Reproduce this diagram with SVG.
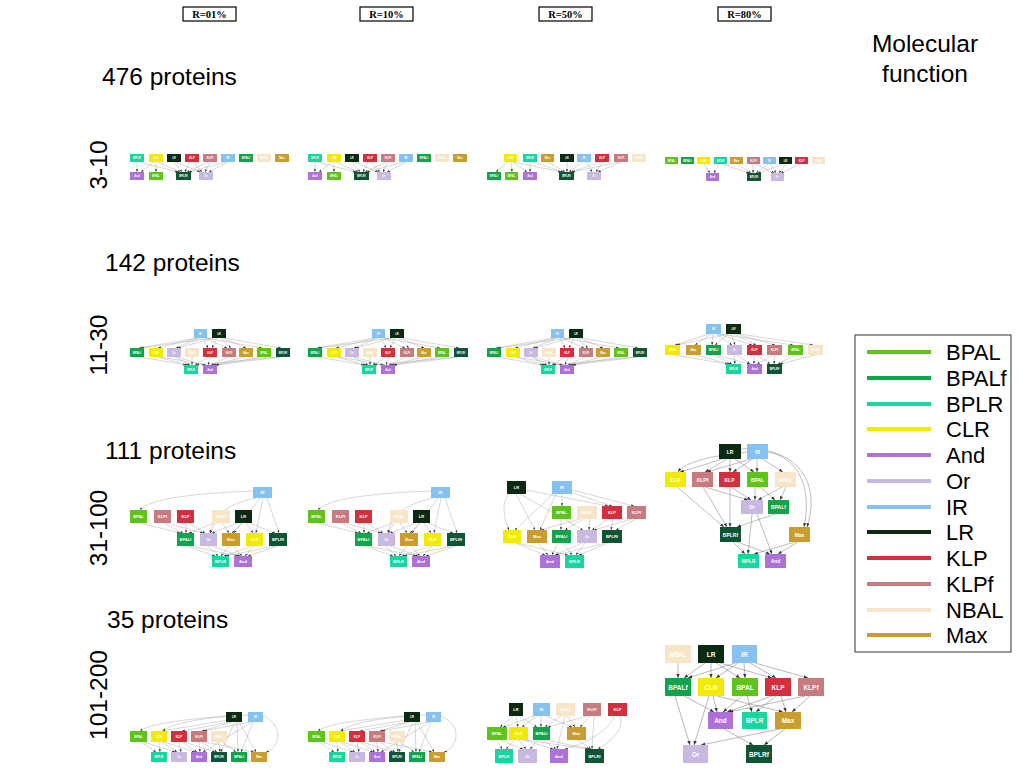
<svg xmlns="http://www.w3.org/2000/svg" width="1024" height="768" viewBox="0 0 1024 768">
<defs>
<marker id="a" viewBox="0 0 10 10" refX="10" refY="5" markerWidth="7" markerHeight="7" orient="auto" markerUnits="strokeWidth"><path d="M0,1 L10,5 L0,9 z" fill="#333"/></marker>
<style>
.BPAL{fill:#5fc41a}.BPALf{fill:#10a54a}.BPLR{fill:#18d6a0}.CLR{fill:#f2ea00}.And{fill:#ad72d8}.Or{fill:#c9b8e2}
.IR{fill:#86c2ef}.LR{fill:#0b2a12}.KLP{fill:#d32f3c}.KLPf{fill:#c77b7e}.NBAL{fill:#f7e5c5}.Max{fill:#c99e2e}
text{font-family:"Liberation Sans",Arial,sans-serif}
.n text{fill:#fff;font-weight:bold;text-anchor:middle;dominant-baseline:central}
.s1 text{font-size:2.8px}.s2 text{font-size:3.2px}.s3 text{font-size:4px}.s4 text{font-size:5px}.s5 text{font-size:6.5px}
.e path{stroke:#999;stroke-width:0.4;fill:none;marker-end:url(#a)}
.e.big path{stroke-width:0.55;stroke:#888}
.big2 path{stroke-width:0.6;stroke:#888}
.lab{font-size:22px;fill:#000}
.ttl{font-size:24.5px;fill:#000}
.hd{font-family:"Liberation Serif","Times New Roman",serif;font-size:10.5px;font-weight:bold;text-anchor:middle;fill:#000}
.hb{fill:#fff;stroke:#000;stroke-width:1.2}
.lg line{stroke-width:4}
</style>
</defs>
<rect width="1024" height="768" fill="#fff"/>

<!-- headers -->
<g id="headers">
<rect class="hb" x="183" y="7" width="53" height="14"/><text class="hd" x="209.5" y="18">R=01%</text>
<rect class="hb" x="360" y="7" width="53" height="14"/><text class="hd" x="386.5" y="18">R=10%</text>
<rect class="hb" x="539" y="7" width="53" height="14"/><text class="hd" x="565.5" y="18">R=50%</text>
<rect class="hb" x="718" y="7" width="53" height="14"/><text class="hd" x="744.5" y="18">R=80%</text>
</g>
<g id="labels">
<text class="ttl" x="102" y="85">476 proteins</text>
<text class="ttl" x="105" y="271">142 proteins</text>
<text class="ttl" x="105" y="459">111 proteins</text>
<text class="ttl" x="107" y="628">35 proteins</text>
<text class="ttl" text-anchor="middle" transform="translate(107,165) rotate(-90)">3-10</text>
<text class="ttl" text-anchor="middle" transform="translate(107,345) rotate(-90)">11-30</text>
<text class="ttl" text-anchor="middle" transform="translate(107,528) rotate(-90)">31-100</text>
<text class="ttl" text-anchor="middle" transform="translate(107,695) rotate(-90)">101-200</text>
<text class="ttl" text-anchor="middle" x="925" y="52">Molecular</text>
<text class="ttl" text-anchor="middle" x="925" y="82">function</text>
</g>

<!-- legend -->
<g id="legend" class="lg">
<rect x="855" y="335" width="156" height="317" fill="#fff" stroke="#333" stroke-width="1"/>
<line x1="867" x2="931" y1="352" y2="352" stroke="#5fc41a"/><text class="lab" x="946" y="360">BPAL</text>
<line x1="867" x2="931" y1="378" y2="378" stroke="#10a54a"/><text class="lab" x="946" y="386">BPALf</text>
<line x1="867" x2="931" y1="404" y2="404" stroke="#18d6a0"/><text class="lab" x="946" y="412">BPLR</text>
<line x1="867" x2="931" y1="429" y2="429" stroke="#f2ea00"/><text class="lab" x="946" y="437">CLR</text>
<line x1="867" x2="931" y1="455" y2="455" stroke="#ad72d8"/><text class="lab" x="946" y="463">And</text>
<line x1="867" x2="931" y1="481" y2="481" stroke="#c9b8e2"/><text class="lab" x="946" y="489">Or</text>
<line x1="867" x2="931" y1="507" y2="507" stroke="#86c2ef"/><text class="lab" x="946" y="515">IR</text>
<line x1="867" x2="931" y1="532" y2="532" stroke="#0b2a12"/><text class="lab" x="946" y="540">LR</text>
<line x1="867" x2="931" y1="558" y2="558" stroke="#d32f3c"/><text class="lab" x="946" y="566">KLP</text>
<line x1="867" x2="931" y1="584" y2="584" stroke="#c77b7e"/><text class="lab" x="946" y="592">KLPf</text>
<line x1="867" x2="931" y1="610" y2="610" stroke="#f7e5c5"/><text class="lab" x="946" y="618">NBAL</text>
<line x1="867" x2="931" y1="635" y2="635" stroke="#c99e2e"/><text class="lab" x="946" y="643">Max</text>
</g>

<!-- ===== Row 1 col 1 and col 2 ===== -->
<g id="r1c1" class="n s1">
<g id="r1c1-edges" class="e">
<path d="M137,162 L137,172"/><path d="M154,162 L141,172"/><path d="M156,162 L156,172"/>
<path d="M139,162 L178,172"/><path d="M158,162 L180,172"/><path d="M174,162 L182,172"/>
<path d="M190,162 L185,172"/><path d="M208,162 L187,172"/><path d="M226,162 L189,172"/>
<path d="M193,162 L202,172"/><path d="M210,162 L205,172"/><path d="M228,162 L209,172"/><path d="M176,162 L200,172"/>
</g>
<g id="r1c1-BPLR"><rect class="BPLR" x="130" y="154" width="14" height="8"/><text x="137" y="158">BPLR</text></g>
<g id="r1c1-CLR"><rect class="CLR" x="149" y="154" width="14" height="8"/><text x="156" y="158">CLR</text></g>
<g id="r1c1-LR"><rect class="LR" x="167" y="154" width="14" height="8"/><text x="174" y="158">LR</text></g>
<g id="r1c1-KLP"><rect class="KLP" x="185" y="154" width="14" height="8"/><text x="192" y="158">KLP</text></g>
<g id="r1c1-KLPf"><rect class="KLPf" x="203" y="154" width="14" height="8"/><text x="210" y="158">KLPf</text></g>
<g id="r1c1-IR"><rect class="IR" x="221" y="154" width="14" height="8"/><text x="228" y="158">IR</text></g>
<g id="r1c1-BPALf"><rect class="BPALf" x="239" y="154" width="14" height="8"/><text x="246" y="158">BPALf</text></g>
<g id="r1c1-NBAL"><rect class="NBAL" x="257" y="154" width="14" height="8"/><text x="264" y="158">NBAL</text></g>
<g id="r1c1-Max"><rect class="Max" x="275" y="154" width="14" height="8"/><text x="282" y="158">Max</text></g>
<g id="r1c1-And"><rect class="And" x="130" y="172" width="14" height="8"/><text x="137" y="176">And</text></g>
<g id="r1c1-BPAL"><rect class="BPAL" x="149" y="172" width="14" height="8"/><text x="156" y="176">BPAL</text></g>
<g id="r1c1-BPLRf"><rect x="176" y="172" width="15" height="8" style="fill:#0f5535"/><text x="183.5" y="176">BPLRf</text></g>
<g id="r1c1-Or"><rect class="Or" x="199" y="172" width="14" height="8"/><text x="206" y="176">Or</text></g>
</g>

<g id="r1c2" class="n s1" transform="translate(178,0)">
<g id="r1c2-edges" class="e">
<path d="M137,162 L137,172"/><path d="M154,162 L141,172"/><path d="M156,162 L156,172"/>
<path d="M139,162 L178,172"/><path d="M158,162 L180,172"/><path d="M174,162 L182,172"/>
<path d="M190,162 L185,172"/><path d="M208,162 L187,172"/><path d="M226,162 L189,172"/>
<path d="M193,162 L202,172"/><path d="M210,162 L205,172"/><path d="M228,162 L209,172"/><path d="M176,162 L200,172"/>
</g>
<g id="r1c2-BPLR"><rect class="BPLR" x="130" y="154" width="14" height="8"/><text x="137" y="158">BPLR</text></g>
<g id="r1c2-CLR"><rect class="CLR" x="149" y="154" width="14" height="8"/><text x="156" y="158">CLR</text></g>
<g id="r1c2-LR"><rect class="LR" x="167" y="154" width="14" height="8"/><text x="174" y="158">LR</text></g>
<g id="r1c2-KLP"><rect class="KLP" x="185" y="154" width="14" height="8"/><text x="192" y="158">KLP</text></g>
<g id="r1c2-KLPf"><rect class="KLPf" x="203" y="154" width="14" height="8"/><text x="210" y="158">KLPf</text></g>
<g id="r1c2-IR"><rect class="IR" x="221" y="154" width="14" height="8"/><text x="228" y="158">IR</text></g>
<g id="r1c2-BPALf"><rect class="BPALf" x="239" y="154" width="14" height="8"/><text x="246" y="158">BPALf</text></g>
<g id="r1c2-NBAL"><rect class="NBAL" x="257" y="154" width="14" height="8"/><text x="264" y="158">NBAL</text></g>
<g id="r1c2-Max"><rect class="Max" x="275" y="154" width="14" height="8"/><text x="282" y="158">Max</text></g>
<g id="r1c2-And"><rect class="And" x="130" y="172" width="14" height="8"/><text x="137" y="176">And</text></g>
<g id="r1c2-BPAL"><rect class="BPAL" x="149" y="172" width="14" height="8"/><text x="156" y="176">BPAL</text></g>
<g id="r1c2-BPLRf"><rect x="176" y="172" width="15" height="8" style="fill:#0f5535"/><text x="183.5" y="176">BPLRf</text></g>
<g id="r1c2-Or"><rect class="Or" x="199" y="172" width="14" height="8"/><text x="206" y="176">Or</text></g>
</g>

<!-- ===== Row 1 col 3 ===== -->
<g id="r1c3" class="n s1">
<g id="r1c3-edges" class="e">
<path d="M508,162 L496,172"/><path d="M511,162 L512,172"/><path d="M530,162 L530,172"/><path d="M513,162 L527,172"/>
<path d="M514,162 L561,172"/><path d="M533,162 L563,172"/><path d="M548,162 L565,172"/><path d="M567,162 L567,172"/>
<path d="M582,162 L569,172"/><path d="M600,162 L571,172"/><path d="M619,162 L572,172"/>
<path d="M603,162 L596,172"/><path d="M621,162 L598,172"/><path d="M586,162 L592,172"/>
</g>
<g id="r1c3-CLR"><rect class="CLR" x="504" y="154" width="13" height="8"/><text x="510.5" y="158">CLR</text></g>
<g id="r1c3-BPLR"><rect class="BPLR" x="523" y="154" width="14" height="8"/><text x="530" y="158">BPLR</text></g>
<g id="r1c3-Max"><rect class="Max" x="541" y="154" width="13" height="8"/><text x="547.5" y="158">Max</text></g>
<g id="r1c3-LR"><rect class="LR" x="560" y="154" width="14" height="8"/><text x="567" y="158">LR</text></g>
<g id="r1c3-IR"><rect class="IR" x="577" y="154" width="14" height="8"/><text x="584" y="158">IR</text></g>
<g id="r1c3-KLP"><rect class="KLP" x="595" y="154" width="14" height="8"/><text x="602" y="158">KLP</text></g>
<g id="r1c3-KLPf"><rect class="KLPf" x="614" y="154" width="14" height="8"/><text x="621" y="158">KLPf</text></g>
<g id="r1c3-NBAL"><rect class="NBAL" x="632" y="154" width="14" height="8"/><text x="639" y="158">NBAL</text></g>
<g id="r1c3-BPALf"><rect class="BPALf" x="487" y="172" width="14" height="8"/><text x="494" y="176">BPALf</text></g>
<g id="r1c3-BPAL"><rect class="BPAL" x="505" y="172" width="13" height="8"/><text x="511.5" y="176">BPAL</text></g>
<g id="r1c3-And"><rect class="And" x="523" y="172" width="14" height="8"/><text x="530" y="176">And</text></g>
<g id="r1c3-BPLRf"><rect x="559" y="172" width="15" height="8" style="fill:#0f5535"/><text x="566.5" y="176">BPLRf</text></g>
<g id="r1c3-Or"><rect class="Or" x="587" y="172" width="14" height="8"/><text x="594" y="176">Or</text></g>
</g>

<!-- ===== Row 1 col 4 ===== -->
<g id="r1c4" class="n s1">
<g id="r1c4-edges" class="e">
<path d="M704,164 L710,173"/><path d="M719,164 L714,173"/><path d="M722,164 L749,173"/><path d="M737,164 L751,173"/>
<path d="M753,164 L753,173"/><path d="M768,164 L756,173"/><path d="M784,164 L758,173"/>
<path d="M800,164 L781,173"/><path d="M786,164 L779,173"/><path d="M770,164 L776,173"/><path d="M755,164 L774,173"/>
</g>
<g id="r1c4-BPAL"><rect class="BPAL" x="665" y="157" width="13" height="7"/><text x="671.5" y="160.5">BPAL</text></g>
<g id="r1c4-BPALf"><rect class="BPALf" x="681" y="157" width="13" height="7"/><text x="687.5" y="160.5">BPALf</text></g>
<g id="r1c4-CLR"><rect class="CLR" x="697" y="157" width="13" height="7"/><text x="703.5" y="160.5">CLR</text></g>
<g id="r1c4-BPLR"><rect class="BPLR" x="714" y="157" width="13" height="7"/><text x="720.5" y="160.5">BPLR</text></g>
<g id="r1c4-Max"><rect class="Max" x="730" y="157" width="13" height="7"/><text x="736.5" y="160.5">Max</text></g>
<g id="r1c4-KLPf"><rect class="KLPf" x="747" y="157" width="13" height="7"/><text x="753.5" y="160.5">KLPf</text></g>
<g id="r1c4-IR"><rect class="IR" x="763" y="157" width="13" height="7"/><text x="769.5" y="160.5">IR</text></g>
<g id="r1c4-LR"><rect class="LR" x="779" y="157" width="13" height="7"/><text x="785.5" y="160.5">LR</text></g>
<g id="r1c4-KLP"><rect class="KLP" x="795" y="157" width="13" height="7"/><text x="801.5" y="160.5">KLP</text></g>
<g id="r1c4-NBAL"><rect class="NBAL" x="812" y="157" width="13" height="7"/><text x="818.5" y="160.5">NBAL</text></g>
<g id="r1c4-And"><rect class="And" x="706" y="173" width="13" height="8"/><text x="712.5" y="177">And</text></g>
<g id="r1c4-BPLRf"><rect x="747" y="173" width="14" height="8" style="fill:#0f5535"/><text x="754" y="177">BPLRf</text></g>
<g id="r1c4-Or"><rect class="Or" x="771" y="173" width="13" height="8"/><text x="777.5" y="177">Or</text></g>
</g>

<!-- ===== Row 2 cols 1-3 ===== -->
<g id="r2c1" class="n s1">
<g id="r2c1-edges" class="e">
<path d="M197,338 L139,348"/><path d="M198,338 L158,348"/><path d="M200,338 L176,348"/><path d="M203,338 L208,348"/>
<path d="M205,338 L227,348"/><path d="M206,338 L262,348"/><path d="M214,338 L178,348"/><path d="M217,338 L212,348"/>
<path d="M220,338 L231,348"/><path d="M222,338 L246,348"/><path d="M224,338 L281,348"/><path d="M213,338 L141,348"/>
<path d="M140,357 L186,365"/><path d="M158,357 L188,365"/><path d="M175,357 L190,365"/><path d="M192,357 L192,365"/>
<path d="M208,357 L195,365"/><path d="M211,357 L208,365"/><path d="M228,357 L211,365"/><path d="M245,357 L213,365"/>
<path d="M262,357 L215,365"/><path d="M281,357 L216,365"/><path d="M176,357 L205,365"/><path d="M160,357 L206,365"/><path d="M279,357 L196,365"/>
</g>
<g id="r2c1-IR"><rect class="IR" x="194" y="329" width="13" height="9"/><text x="200.5" y="333.5">IR</text></g>
<g id="r2c1-LR"><rect class="LR" x="212" y="329" width="14" height="9"/><text x="219" y="333.5">LR</text></g>
<g id="r2c1-BPALf"><rect class="BPALf" x="130" y="348" width="14" height="9"/><text x="137" y="352.5">BPALf</text></g>
<g id="r2c1-CLR"><rect class="CLR" x="149" y="348" width="14" height="9"/><text x="156" y="352.5">CLR</text></g>
<g id="r2c1-Or"><rect class="Or" x="167" y="348" width="14" height="9"/><text x="174" y="352.5">Or</text></g>
<g id="r2c1-NBAL"><rect class="NBAL" x="185" y="348" width="14" height="9"/><text x="192" y="352.5">NBAL</text></g>
<g id="r2c1-KLP"><rect class="KLP" x="203" y="348" width="14" height="9"/><text x="210" y="352.5">KLP</text></g>
<g id="r2c1-KLPf"><rect class="KLPf" x="222" y="348" width="14" height="9"/><text x="229" y="352.5">KLPf</text></g>
<g id="r2c1-Max"><rect class="Max" x="239" y="348" width="14" height="9"/><text x="246" y="352.5">Max</text></g>
<g id="r2c1-BPAL"><rect class="BPAL" x="257" y="348" width="14" height="9"/><text x="264" y="352.5">BPAL</text></g>
<g id="r2c1-BPLRf"><rect x="276" y="348" width="14" height="9" style="fill:#0f5535"/><text x="283" y="352.5">BPLRf</text></g>
<g id="r2c1-BPLR"><rect class="BPLR" x="184" y="365" width="14" height="9"/><text x="191" y="369.5">BPLR</text></g>
<g id="r2c1-And"><rect class="And" x="203" y="365" width="14" height="9"/><text x="210" y="369.5">And</text></g>
</g>

<g id="r2c2" class="n s1" transform="translate(178,0)">
<g id="r2c2-edges" class="e">
<path d="M197,338 L139,348"/><path d="M198,338 L158,348"/><path d="M200,338 L176,348"/><path d="M203,338 L208,348"/>
<path d="M205,338 L227,348"/><path d="M206,338 L262,348"/><path d="M214,338 L178,348"/><path d="M217,338 L212,348"/>
<path d="M220,338 L231,348"/><path d="M222,338 L246,348"/><path d="M224,338 L281,348"/><path d="M213,338 L141,348"/>
<path d="M140,357 L186,365"/><path d="M158,357 L188,365"/><path d="M175,357 L190,365"/><path d="M192,357 L192,365"/>
<path d="M208,357 L195,365"/><path d="M211,357 L208,365"/><path d="M228,357 L211,365"/><path d="M245,357 L213,365"/>
<path d="M262,357 L215,365"/><path d="M281,357 L216,365"/><path d="M176,357 L205,365"/><path d="M160,357 L206,365"/><path d="M279,357 L196,365"/>
</g>
<g id="r2c2-IR"><rect class="IR" x="194" y="329" width="13" height="9"/><text x="200.5" y="333.5">IR</text></g>
<g id="r2c2-LR"><rect class="LR" x="212" y="329" width="14" height="9"/><text x="219" y="333.5">LR</text></g>
<g id="r2c2-BPALf"><rect class="BPALf" x="130" y="348" width="14" height="9"/><text x="137" y="352.5">BPALf</text></g>
<g id="r2c2-CLR"><rect class="CLR" x="149" y="348" width="14" height="9"/><text x="156" y="352.5">CLR</text></g>
<g id="r2c2-Or"><rect class="Or" x="167" y="348" width="14" height="9"/><text x="174" y="352.5">Or</text></g>
<g id="r2c2-NBAL"><rect class="NBAL" x="185" y="348" width="14" height="9"/><text x="192" y="352.5">NBAL</text></g>
<g id="r2c2-KLP"><rect class="KLP" x="203" y="348" width="14" height="9"/><text x="210" y="352.5">KLP</text></g>
<g id="r2c2-KLPf"><rect class="KLPf" x="222" y="348" width="14" height="9"/><text x="229" y="352.5">KLPf</text></g>
<g id="r2c2-Max"><rect class="Max" x="239" y="348" width="14" height="9"/><text x="246" y="352.5">Max</text></g>
<g id="r2c2-BPAL"><rect class="BPAL" x="257" y="348" width="14" height="9"/><text x="264" y="352.5">BPAL</text></g>
<g id="r2c2-BPLRf"><rect x="276" y="348" width="14" height="9" style="fill:#0f5535"/><text x="283" y="352.5">BPLRf</text></g>
<g id="r2c2-BPLR"><rect class="BPLR" x="184" y="365" width="14" height="9"/><text x="191" y="369.5">BPLR</text></g>
<g id="r2c2-And"><rect class="And" x="203" y="365" width="14" height="9"/><text x="210" y="369.5">And</text></g>
</g>

<g id="r2c3" class="n s1" transform="translate(357,0)">
<g id="r2c3-edges" class="e">
<path d="M197,338 L139,348"/><path d="M198,338 L158,348"/><path d="M200,338 L176,348"/><path d="M203,338 L208,348"/>
<path d="M205,338 L227,348"/><path d="M206,338 L262,348"/><path d="M214,338 L178,348"/><path d="M217,338 L212,348"/>
<path d="M220,338 L231,348"/><path d="M222,338 L246,348"/><path d="M224,338 L281,348"/><path d="M213,338 L141,348"/>
<path d="M140,357 L186,365"/><path d="M158,357 L188,365"/><path d="M175,357 L190,365"/><path d="M192,357 L192,365"/>
<path d="M208,357 L195,365"/><path d="M211,357 L208,365"/><path d="M228,357 L211,365"/><path d="M245,357 L213,365"/>
<path d="M262,357 L215,365"/><path d="M281,357 L216,365"/><path d="M176,357 L205,365"/><path d="M160,357 L206,365"/><path d="M279,357 L196,365"/>
</g>
<g id="r2c3-IR"><rect class="IR" x="194" y="329" width="13" height="9"/><text x="200.5" y="333.5">IR</text></g>
<g id="r2c3-LR"><rect class="LR" x="212" y="329" width="14" height="9"/><text x="219" y="333.5">LR</text></g>
<g id="r2c3-BPALf"><rect class="BPALf" x="130" y="348" width="14" height="9"/><text x="137" y="352.5">BPALf</text></g>
<g id="r2c3-CLR"><rect class="CLR" x="149" y="348" width="14" height="9"/><text x="156" y="352.5">CLR</text></g>
<g id="r2c3-Or"><rect class="Or" x="167" y="348" width="14" height="9"/><text x="174" y="352.5">Or</text></g>
<g id="r2c3-NBAL"><rect class="NBAL" x="185" y="348" width="14" height="9"/><text x="192" y="352.5">NBAL</text></g>
<g id="r2c3-KLP"><rect class="KLP" x="203" y="348" width="14" height="9"/><text x="210" y="352.5">KLP</text></g>
<g id="r2c3-KLPf"><rect class="KLPf" x="222" y="348" width="14" height="9"/><text x="229" y="352.5">KLPf</text></g>
<g id="r2c3-Max"><rect class="Max" x="239" y="348" width="14" height="9"/><text x="246" y="352.5">Max</text></g>
<g id="r2c3-BPAL"><rect class="BPAL" x="257" y="348" width="14" height="9"/><text x="264" y="352.5">BPAL</text></g>
<g id="r2c3-BPLRf"><rect x="276" y="348" width="14" height="9" style="fill:#0f5535"/><text x="283" y="352.5">BPLRf</text></g>
<g id="r2c3-BPLR"><rect class="BPLR" x="184" y="365" width="14" height="9"/><text x="191" y="369.5">BPLR</text></g>
<g id="r2c3-And"><rect class="And" x="203" y="365" width="14" height="9"/><text x="210" y="369.5">And</text></g>
</g>

<!-- ===== Row 2 col 4 ===== -->
<g id="r2c4" class="n s2">
<g id="r2c4-edges" class="e">
<path d="M709,334 L675,345"/><path d="M711,334 L695,345"/><path d="M713,334 L712,345"/><path d="M716,334 L732,345"/>
<path d="M718,334 L752,345"/><path d="M719,334 L793,345"/><path d="M729,334 L715,345"/><path d="M731,334 L735,345"/>
<path d="M734,334 L756,345"/><path d="M736,334 L775,345"/><path d="M739,334 L813,345"/><path d="M728,334 L677,345"/>
<path d="M674,355 L728,364"/><path d="M695,355 L730,364"/><path d="M714,355 L732,364"/><path d="M734,355 L735,364"/>
<path d="M737,355 L750,364"/><path d="M754,355 L754,364"/><path d="M773,355 L757,364"/><path d="M757,355 L770,364"/>
<path d="M775,355 L774,364"/><path d="M795,355 L778,364"/><path d="M815,355 L780,364"/><path d="M716,355 L750,364"/>
</g>
<g id="r2c4-IR"><rect class="IR" x="706" y="324" width="15" height="10"/><text x="713.5" y="329">IR</text></g>
<g id="r2c4-LR"><rect class="LR" x="726" y="324" width="15" height="10"/><text x="733.5" y="329">LR</text></g>
<g id="r2c4-CLR"><rect class="CLR" x="665" y="345" width="15" height="10"/><text x="672.5" y="350">CLR</text></g>
<g id="r2c4-Max"><rect class="Max" x="686" y="345" width="15" height="10"/><text x="693.5" y="350">Max</text></g>
<g id="r2c4-BPALf"><rect class="BPALf" x="706" y="345" width="15" height="10"/><text x="713.5" y="350">BPALf</text></g>
<g id="r2c4-Or"><rect class="Or" x="727" y="345" width="15" height="10"/><text x="734.5" y="350">Or</text></g>
<g id="r2c4-KLP"><rect class="KLP" x="747" y="345" width="15" height="10"/><text x="754.5" y="350">KLP</text></g>
<g id="r2c4-KLPf"><rect class="KLPf" x="767" y="345" width="15" height="10"/><text x="774.5" y="350">KLPf</text></g>
<g id="r2c4-BPAL"><rect class="BPAL" x="788" y="345" width="15" height="10"/><text x="795.5" y="350">BPAL</text></g>
<g id="r2c4-NBAL"><rect class="NBAL" x="808" y="345" width="15" height="10"/><text x="815.5" y="350">NBAL</text></g>
<g id="r2c4-BPLR"><rect class="BPLR" x="726" y="364" width="15" height="10"/><text x="733.5" y="369">BPLR</text></g>
<g id="r2c4-And"><rect class="And" x="747" y="364" width="15" height="10"/><text x="754.5" y="369">And</text></g>
<g id="r2c4-BPLRf"><rect x="767" y="364" width="15" height="10" style="fill:#0f5535"/><text x="774.5" y="369">BPLRf</text></g>
</g>

<!-- ===== Row 3 cols 1-2 ===== -->
<g id="r3c1" class="n s3">
<g id="r3c1-edges" class="e">
<path d="M253,491 C200,493 150,498 140,510"/><path d="M256,498 C232,503 214,512 210,533"/>
<path d="M260,498 L234,533"/><path d="M263,498 L256,533"/><path d="M267,498 L279,533"/>
<path d="M238,523 L212,533"/><path d="M242,523 L232,533"/><path d="M246,523 L253,533"/><path d="M250,523 L275,533"/>
<path d="M140,523 L180,533"/><path d="M163,523 L183,533"/><path d="M186,523 L186,533"/><path d="M166,523 L203,533"/>
<path d="M189,523 L205,533"/><path d="M216,523 L210,533"/><path d="M222,523 L229,533"/><path d="M214,523 L189,533"/>
<path d="M187,546 L215,556"/><path d="M190,546 L238,556"/><path d="M208,546 L218,556"/><path d="M212,546 L240,556"/>
<path d="M229,546 L221,556"/><path d="M233,546 L242,556"/><path d="M252,546 L224,556"/><path d="M254,546 L245,556"/>
<path d="M275,546 L226,556"/><path d="M278,546 L248,556"/>
</g>
<g id="r3c1-IR"><rect class="IR" x="253" y="487" width="19" height="11"/><text x="262.5" y="492.5">IR</text></g>
<g id="r3c1-BPAL"><rect class="BPAL" x="130" y="510" width="17" height="13"/><text x="138.5" y="516.5">BPAL</text></g>
<g id="r3c1-KLPf"><rect class="KLPf" x="154" y="510" width="17" height="13"/><text x="162.5" y="516.5">KLPf</text></g>
<g id="r3c1-KLP"><rect class="KLP" x="177" y="510" width="17" height="13"/><text x="185.5" y="516.5">KLP</text></g>
<g id="r3c1-NBAL"><rect class="NBAL" x="212" y="510" width="18" height="13"/><text x="221" y="516.5">NBAL</text></g>
<g id="r3c1-LR"><rect class="LR" x="235" y="510" width="17" height="13"/><text x="243.5" y="516.5">LR</text></g>
<g id="r3c1-BPALf"><rect class="BPALf" x="177" y="533" width="17" height="13"/><text x="185.5" y="539.5">BPALf</text></g>
<g id="r3c1-Or"><rect class="Or" x="200" y="533" width="17" height="13"/><text x="208.5" y="539.5">Or</text></g>
<g id="r3c1-Max"><rect class="Max" x="222" y="533" width="18" height="13"/><text x="231" y="539.5">Max</text></g>
<g id="r3c1-CLR"><rect class="CLR" x="246" y="533" width="17" height="13"/><text x="254.5" y="539.5">CLR</text></g>
<g id="r3c1-BPLRf"><rect x="269" y="533" width="18" height="13" style="fill:#0f5535"/><text x="278" y="539.5">BPLRf</text></g>
<g id="r3c1-BPLR"><rect class="BPLR" x="212" y="556" width="17" height="11"/><text x="220.5" y="561.5">BPLR</text></g>
<g id="r3c1-And"><rect class="And" x="234" y="556" width="18" height="11"/><text x="243" y="561.5">And</text></g>
</g>

<g id="r3c2" class="n s3" transform="translate(178,0)">
<g id="r3c2-edges" class="e">
<path d="M253,491 C200,493 150,498 140,510"/><path d="M256,498 C232,503 214,512 210,533"/>
<path d="M260,498 L234,533"/><path d="M263,498 L256,533"/><path d="M267,498 L279,533"/>
<path d="M238,523 L212,533"/><path d="M242,523 L232,533"/><path d="M246,523 L253,533"/><path d="M250,523 L275,533"/>
<path d="M140,523 L180,533"/><path d="M163,523 L183,533"/><path d="M186,523 L186,533"/><path d="M166,523 L203,533"/>
<path d="M189,523 L205,533"/><path d="M216,523 L210,533"/><path d="M222,523 L229,533"/><path d="M214,523 L189,533"/>
<path d="M187,546 L215,556"/><path d="M190,546 L238,556"/><path d="M208,546 L218,556"/><path d="M212,546 L240,556"/>
<path d="M229,546 L221,556"/><path d="M233,546 L242,556"/><path d="M252,546 L224,556"/><path d="M254,546 L245,556"/>
<path d="M275,546 L226,556"/><path d="M278,546 L248,556"/>
</g>
<g id="r3c2-IR"><rect class="IR" x="253" y="487" width="19" height="11"/><text x="262.5" y="492.5">IR</text></g>
<g id="r3c2-BPAL"><rect class="BPAL" x="130" y="510" width="17" height="13"/><text x="138.5" y="516.5">BPAL</text></g>
<g id="r3c2-KLPf"><rect class="KLPf" x="154" y="510" width="17" height="13"/><text x="162.5" y="516.5">KLPf</text></g>
<g id="r3c2-KLP"><rect class="KLP" x="177" y="510" width="17" height="13"/><text x="185.5" y="516.5">KLP</text></g>
<g id="r3c2-NBAL"><rect class="NBAL" x="212" y="510" width="18" height="13"/><text x="221" y="516.5">NBAL</text></g>
<g id="r3c2-LR"><rect class="LR" x="235" y="510" width="17" height="13"/><text x="243.5" y="516.5">LR</text></g>
<g id="r3c2-BPALf"><rect class="BPALf" x="177" y="533" width="17" height="13"/><text x="185.5" y="539.5">BPALf</text></g>
<g id="r3c2-Or"><rect class="Or" x="200" y="533" width="17" height="13"/><text x="208.5" y="539.5">Or</text></g>
<g id="r3c2-Max"><rect class="Max" x="222" y="533" width="18" height="13"/><text x="231" y="539.5">Max</text></g>
<g id="r3c2-CLR"><rect class="CLR" x="246" y="533" width="17" height="13"/><text x="254.5" y="539.5">CLR</text></g>
<g id="r3c2-BPLRf"><rect x="269" y="533" width="18" height="13" style="fill:#0f5535"/><text x="278" y="539.5">BPLRf</text></g>
<g id="r3c2-BPLR"><rect class="BPLR" x="212" y="556" width="17" height="11"/><text x="220.5" y="561.5">BPLR</text></g>
<g id="r3c2-And"><rect class="And" x="234" y="556" width="18" height="11"/><text x="243" y="561.5">And</text></g>
</g>

<!-- ===== Row 3 col 3 ===== -->
<g id="r3c3" class="n s3">
<g id="r3c3-edges" class="e">
<path d="M509,494 C500,505 505,520 509,530"/><path d="M516,494 L535,530"/><path d="M520,494 L583,530"/><path d="M526,490 L608,506"/>
<path d="M562,494 L562,506"/><path d="M556,494 L540,530"/><path d="M553,494 L515,530"/><path d="M570,492 L612,506"/><path d="M572,490 L634,506"/>
<path d="M561,519 L561,530"/><path d="M580,519 L541,530"/><path d="M583,519 L565,530"/><path d="M590,519 L589,530"/>
<path d="M608,519 L592,530"/><path d="M613,519 L611,530"/><path d="M632,519 L594,530"/><path d="M636,519 L616,530"/>
<path d="M515,543 L545,555"/><path d="M517,543 L568,555"/><path d="M538,543 L548,555"/><path d="M558,543 L552,555"/>
<path d="M563,543 L572,555"/><path d="M585,543 L576,555"/><path d="M582,543 L555,555"/><path d="M608,543 L579,555"/><path d="M606,543 L556,555"/>
</g>
<g id="r3c3-LR"><rect class="LR" x="507" y="481" width="19" height="13"/><text x="516.5" y="487.5">LR</text></g>
<g id="r3c3-IR"><rect class="IR" x="552" y="481" width="20" height="13"/><text x="562" y="487.5">IR</text></g>
<g id="r3c3-BPAL"><rect class="BPAL" x="552" y="506" width="19" height="13"/><text x="561.5" y="512.5">BPAL</text></g>
<g id="r3c3-NBAL"><rect class="NBAL" x="577" y="506" width="20" height="13"/><text x="587" y="512.5">NBAL</text></g>
<g id="r3c3-KLP"><rect class="KLP" x="602" y="506" width="20" height="13"/><text x="612" y="512.5">KLP</text></g>
<g id="r3c3-KLPf"><rect class="KLPf" x="627" y="506" width="19" height="13"/><text x="636.5" y="512.5">KLPf</text></g>
<g id="r3c3-CLR"><rect class="CLR" x="503" y="530" width="18" height="13"/><text x="512" y="536.5">CLR</text></g>
<g id="r3c3-Max"><rect class="Max" x="527" y="530" width="20" height="13"/><text x="537" y="536.5">Max</text></g>
<g id="r3c3-BPALf"><rect class="BPALf" x="552" y="530" width="19" height="13"/><text x="561.5" y="536.5">BPALf</text></g>
<g id="r3c3-Or"><rect class="Or" x="577" y="530" width="20" height="13"/><text x="587" y="536.5">Or</text></g>
<g id="r3c3-BPLRf"><rect x="602" y="530" width="20" height="13" style="fill:#0f5535"/><text x="612" y="536.5">BPLRf</text></g>
<g id="r3c3-And"><rect class="And" x="540" y="555" width="20" height="13"/><text x="550" y="561.5">And</text></g>
<g id="r3c3-BPLR"><rect class="BPLR" x="565" y="555" width="19" height="13"/><text x="574.5" y="561.5">BPLR</text></g>
</g>

<!-- ===== Row 3 col 4 ===== -->
<g id="r3c4" class="n s4">
<g id="r3c4-edges" class="e big">
<path d="M723,459 L680,472"/><path d="M727,459 L705,472"/><path d="M730,459 L730,472"/><path d="M735,459 L754,472"/>
<path d="M747,452 C710,456 685,462 678,472"/><path d="M751,459 L707,472"/><path d="M753,459 L733,472"/><path d="M757,459 L757,472"/>
<path d="M762,459 L783,472"/><path d="M768,452 C800,458 812,490 804,527"/><path d="M741,449 C795,446 822,480 807,527"/>
<path d="M705,487 L748,500"/><path d="M731,487 L751,500"/><path d="M755,487 L755,500"/><path d="M760,487 L775,500"/>
<path d="M782,487 L758,500"/><path d="M786,487 L780,500"/>
<path d="M677,487 L724,527"/><path d="M703,487 L727,527"/><path d="M730,487 L730,527"/><path d="M775,514 L737,527"/>
<path d="M752,514 L748,554"/><path d="M757,514 L772,554"/><path d="M733,542 L745,554"/><path d="M737,542 L770,554"/>
<path d="M795,542 L754,554"/><path d="M798,542 L778,554"/>
</g>
<g id="r3c4-LR"><rect class="LR" x="719" y="444" width="22" height="15"/><text x="730" y="451.5">LR</text></g>
<g id="r3c4-IR"><rect class="IR" x="747" y="444" width="21" height="15"/><text x="757.5" y="451.5">IR</text></g>
<g id="r3c4-CLR"><rect class="CLR" x="665" y="472" width="21" height="15"/><text x="675.5" y="479.5">CLR</text></g>
<g id="r3c4-KLPf"><rect class="KLPf" x="692" y="472" width="21" height="15"/><text x="702.5" y="479.5">KLPf</text></g>
<g id="r3c4-KLP"><rect class="KLP" x="719" y="472" width="21" height="15"/><text x="729.5" y="479.5">KLP</text></g>
<g id="r3c4-BPAL"><rect class="BPAL" x="747" y="472" width="21" height="15"/><text x="757.5" y="479.5">BPAL</text></g>
<g id="r3c4-NBAL"><rect class="NBAL" x="775" y="472" width="21" height="15"/><text x="785.5" y="479.5">NBAL</text></g>
<g id="r3c4-Or"><rect class="Or" x="741" y="500" width="22" height="14"/><text x="752" y="507">Or</text></g>
<g id="r3c4-BPALf"><rect class="BPALf" x="768" y="500" width="21" height="14"/><text x="778.5" y="507">BPALf</text></g>
<g id="r3c4-BPLRf"><rect x="720" y="527" width="21" height="15" style="fill:#0f5535"/><text x="730.5" y="534.5">BPLRf</text></g>
<g id="r3c4-Max"><rect class="Max" x="789" y="527" width="21" height="15"/><text x="799.5" y="534.5">Max</text></g>
<g id="r3c4-BPLR"><rect class="BPLR" x="738" y="554" width="21" height="14"/><text x="748.5" y="561">BPLR</text></g>
<g id="r3c4-And"><rect class="And" x="765" y="554" width="21" height="14"/><text x="775.5" y="561">And</text></g>
</g>

<!-- ===== Row 4 cols 1-2 ===== -->
<g id="r4c1" class="n s2">
<g id="r4c1-edges" class="e">
<path d="M226,716 C190,719 150,723 140,731"/><path d="M228,720 L162,731"/><path d="M248,715 C205,717 172,723 163,731"/>
<path d="M230,722 L182,731"/><path d="M232,722 L202,731"/><path d="M235,722 L221,752"/><path d="M237,722 L238,752"/>
<path d="M239,722 L256,752"/><path d="M253,722 L241,752"/><path d="M250,722 L204,731"/><path d="M263,716 C285,725 280,748 266,752"/>
<path d="M252,722 L203,752"/>
<path d="M141,742 L156,752"/><path d="M144,742 L175,752"/><path d="M159,742 L160,752"/><path d="M162,742 L177,752"/>
<path d="M164,742 L195,752"/><path d="M179,742 L181,752"/><path d="M182,742 L197,752"/><path d="M184,742 L215,752"/>
<path d="M199,742 L200,752"/><path d="M202,742 L217,752"/><path d="M205,742 L254,752"/><path d="M219,742 L220,752"/><path d="M222,742 L236,752"/>
</g>
<g id="r4c1-LR"><rect class="LR" x="226" y="712" width="16" height="10"/><text x="234" y="717">LR</text></g>
<g id="r4c1-IR"><rect class="IR" x="248" y="712" width="15" height="10"/><text x="255.5" y="717">IR</text></g>
<g id="r4c1-BPAL"><rect class="BPAL" x="130" y="731" width="17" height="11"/><text x="138.5" y="736.5">BPAL</text></g>
<g id="r4c1-CLR"><rect class="CLR" x="151" y="731" width="16" height="11"/><text x="159" y="736.5">CLR</text></g>
<g id="r4c1-KLP"><rect class="KLP" x="171" y="731" width="16" height="11"/><text x="179" y="736.5">KLP</text></g>
<g id="r4c1-KLPf"><rect class="KLPf" x="191" y="731" width="16" height="11"/><text x="199" y="736.5">KLPf</text></g>
<g id="r4c1-NBAL"><rect class="NBAL" x="211" y="731" width="16" height="11"/><text x="219" y="736.5">NBAL</text></g>
<g id="r4c1-BPLR"><rect class="BPLR" x="151" y="752" width="16" height="10"/><text x="159" y="757">BPLR</text></g>
<g id="r4c1-Or"><rect class="Or" x="171" y="752" width="16" height="10"/><text x="179" y="757">Or</text></g>
<g id="r4c1-And"><rect class="And" x="191" y="752" width="16" height="10"/><text x="199" y="757">And</text></g>
<g id="r4c1-BPLRf"><rect x="211" y="752" width="16" height="10" style="fill:#0f5535"/><text x="219" y="757">BPLRf</text></g>
<g id="r4c1-BPALf"><rect class="BPALf" x="231" y="752" width="16" height="10"/><text x="239" y="757">BPALf</text></g>
<g id="r4c1-Max"><rect class="Max" x="251" y="752" width="16" height="10"/><text x="259" y="757">Max</text></g>
</g>

<g id="r4c2" class="n s2" transform="translate(178,0)">
<g id="r4c2-edges" class="e">
<path d="M226,716 C190,719 150,723 140,731"/><path d="M228,720 L162,731"/><path d="M248,715 C205,717 172,723 163,731"/>
<path d="M230,722 L182,731"/><path d="M232,722 L202,731"/><path d="M235,722 L221,752"/><path d="M237,722 L238,752"/>
<path d="M239,722 L256,752"/><path d="M253,722 L241,752"/><path d="M250,722 L204,731"/><path d="M263,716 C285,725 280,748 266,752"/>
<path d="M252,722 L203,752"/>
<path d="M141,742 L156,752"/><path d="M144,742 L175,752"/><path d="M159,742 L160,752"/><path d="M162,742 L177,752"/>
<path d="M164,742 L195,752"/><path d="M179,742 L181,752"/><path d="M182,742 L197,752"/><path d="M184,742 L215,752"/>
<path d="M199,742 L200,752"/><path d="M202,742 L217,752"/><path d="M205,742 L254,752"/><path d="M219,742 L220,752"/><path d="M222,742 L236,752"/>
</g>
<g id="r4c2-LR"><rect class="LR" x="226" y="712" width="16" height="10"/><text x="234" y="717">LR</text></g>
<g id="r4c2-IR"><rect class="IR" x="248" y="712" width="15" height="10"/><text x="255.5" y="717">IR</text></g>
<g id="r4c2-BPAL"><rect class="BPAL" x="130" y="731" width="17" height="11"/><text x="138.5" y="736.5">BPAL</text></g>
<g id="r4c2-CLR"><rect class="CLR" x="151" y="731" width="16" height="11"/><text x="159" y="736.5">CLR</text></g>
<g id="r4c2-KLP"><rect class="KLP" x="171" y="731" width="16" height="11"/><text x="179" y="736.5">KLP</text></g>
<g id="r4c2-KLPf"><rect class="KLPf" x="191" y="731" width="16" height="11"/><text x="199" y="736.5">KLPf</text></g>
<g id="r4c2-NBAL"><rect class="NBAL" x="211" y="731" width="16" height="11"/><text x="219" y="736.5">NBAL</text></g>
<g id="r4c2-BPLR"><rect class="BPLR" x="151" y="752" width="16" height="10"/><text x="159" y="757">BPLR</text></g>
<g id="r4c2-Or"><rect class="Or" x="171" y="752" width="16" height="10"/><text x="179" y="757">Or</text></g>
<g id="r4c2-And"><rect class="And" x="191" y="752" width="16" height="10"/><text x="199" y="757">And</text></g>
<g id="r4c2-BPLRf"><rect x="211" y="752" width="16" height="10" style="fill:#0f5535"/><text x="219" y="757">BPLRf</text></g>
<g id="r4c2-BPALf"><rect class="BPALf" x="231" y="752" width="16" height="10"/><text x="239" y="757">BPALf</text></g>
<g id="r4c2-Max"><rect class="Max" x="251" y="752" width="16" height="10"/><text x="259" y="757">Max</text></g>
</g>

<!-- ===== Row 4 col 3 ===== -->
<g id="r4c3" class="n s3">
<g id="r4c3-edges" class="e">
<path d="M513,716 L500,727"/><path d="M516,716 L518,727"/><path d="M519,716 L537,727"/><path d="M537,716 L522,727"/>
<path d="M541,716 L541,727"/><path d="M546,716 L572,727"/><path d="M534,716 L503,727"/><path d="M561,716 L545,727"/>
<path d="M567,716 L575,727"/><path d="M565,716 L557,749"/><path d="M587,716 L548,727"/><path d="M590,716 L580,727"/>
<path d="M594,716 L592,749"/><path d="M620,716 C625,730 610,742 598,749"/><path d="M615,716 C605,735 580,745 565,749"/>
<path d="M497,740 L502,749"/><path d="M500,740 L523,749"/><path d="M515,740 L506,749"/><path d="M519,740 L526,749"/>
<path d="M523,740 L553,749"/><path d="M525,740 L588,749"/><path d="M543,740 L556,749"/><path d="M538,740 L530,749"/>
<path d="M546,740 L590,749"/><path d="M578,740 L591,749"/>
</g>
<g id="r4c3-LR"><rect class="LR" x="509" y="703" width="14" height="13"/><text x="516" y="709.5">LR</text></g>
<g id="r4c3-IR"><rect class="IR" x="533" y="703" width="17" height="13"/><text x="541.5" y="709.5">IR</text></g>
<g id="r4c3-NBAL"><rect class="NBAL" x="556" y="703" width="19" height="13"/><text x="565.5" y="709.5">NBAL</text></g>
<g id="r4c3-KLPf"><rect class="KLPf" x="583" y="703" width="18" height="13"/><text x="592" y="709.5">KLPf</text></g>
<g id="r4c3-KLP"><rect class="KLP" x="608" y="703" width="19" height="13"/><text x="617.5" y="709.5">KLP</text></g>
<g id="r4c3-BPAL"><rect class="BPAL" x="487" y="727" width="20" height="13"/><text x="497" y="733.5">BPAL</text></g>
<g id="r4c3-CLR"><rect class="CLR" x="509" y="727" width="19" height="13"/><text x="518.5" y="733.5">CLR</text></g>
<g id="r4c3-BPALf"><rect class="BPALf" x="533" y="727" width="17" height="13"/><text x="541.5" y="733.5">BPALf</text></g>
<g id="r4c3-Max"><rect class="Max" x="567" y="727" width="19" height="13"/><text x="576.5" y="733.5">Max</text></g>
<g id="r4c3-BPLR"><rect class="BPLR" x="495" y="749" width="18" height="14"/><text x="504" y="756">BPLR</text></g>
<g id="r4c3-Or"><rect class="Or" x="518" y="749" width="19" height="14"/><text x="527.5" y="756">Or</text></g>
<g id="r4c3-And"><rect class="And" x="550" y="749" width="18" height="14"/><text x="559" y="756">And</text></g>
<g id="r4c3-BPLRf"><rect x="585" y="749" width="19" height="14" style="fill:#0f5535"/><text x="594.5" y="756">BPLRf</text></g>
</g>

<!-- ===== Row 4 col 4 ===== -->
<g id="r4c4" class="n s5">
<g id="r4c4-edges" class="e big2">
<path d="M678,663 L678,678"/><path d="M705,663 L684,678"/><path d="M711,663 L711,678"/><path d="M716,663 L740,678"/>
<path d="M720,663 L772,678"/><path d="M738,663 L716,678"/><path d="M735,663 L688,678"/><path d="M744,663 L745,678"/>
<path d="M750,663 L776,678"/><path d="M755,663 L808,678"/>
<path d="M684,696 L714,712"/><path d="M675,696 L690,745"/><path d="M709,696 L694,745"/><path d="M713,696 L717,712"/>
<path d="M717,696 L783,712"/><path d="M742,696 L723,712"/><path d="M747,696 L752,712"/><path d="M772,696 L727,712"/>
<path d="M776,696 L756,712"/><path d="M781,696 L786,712"/><path d="M805,696 L729,712"/><path d="M810,696 L792,712"/>
<path d="M724,729 L753,745"/><path d="M785,729 L764,745"/><path d="M780,729 L701,745"/>
</g>
<g id="r4c4-NBAL"><rect class="NBAL" x="665" y="645" width="26" height="18"/><text x="678" y="654">NBAL</text></g>
<g id="r4c4-LR"><rect class="LR" x="698" y="645" width="26" height="18"/><text x="711" y="654">LR</text></g>
<g id="r4c4-IR"><rect class="IR" x="732" y="645" width="25" height="18"/><text x="744.5" y="654">IR</text></g>
<g id="r4c4-BPALf"><rect class="BPALf" x="665" y="678" width="26" height="18"/><text x="678" y="687">BPALf</text></g>
<g id="r4c4-CLR"><rect class="CLR" x="698" y="678" width="26" height="18"/><text x="711" y="687">CLR</text></g>
<g id="r4c4-BPAL"><rect class="BPAL" x="732" y="678" width="26" height="18"/><text x="745" y="687">BPAL</text></g>
<g id="r4c4-KLP"><rect class="KLP" x="765" y="678" width="26" height="18"/><text x="778" y="687">KLP</text></g>
<g id="r4c4-KLPf"><rect class="KLPf" x="798" y="678" width="26" height="18"/><text x="811" y="687">KLPf</text></g>
<g id="r4c4-And"><rect class="And" x="708" y="712" width="25" height="17"/><text x="720.5" y="720.5">And</text></g>
<g id="r4c4-BPLR"><rect class="BPLR" x="742" y="712" width="25" height="17"/><text x="754.5" y="720.5">BPLR</text></g>
<g id="r4c4-Max"><rect class="Max" x="775" y="712" width="26" height="17"/><text x="788" y="720.5">Max</text></g>
<g id="r4c4-Or"><rect class="Or" x="683" y="745" width="25" height="18"/><text x="695.5" y="754">Or</text></g>
<g id="r4c4-BPLRf"><rect x="746" y="745" width="26" height="18" style="fill:#0f5535"/><text x="759" y="754">BPLRf</text></g>
</g>
</svg>
